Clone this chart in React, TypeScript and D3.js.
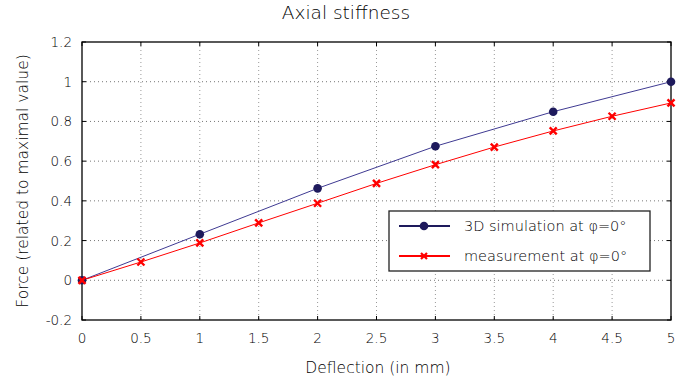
import React from "react";
import * as d3 from "d3";

const simX = [0, 1, 2, 3, 4, 5];
const simY = [0, 0.232, 0.463, 0.675, 0.849, 1.0];
const measX = [0, 0.5, 1, 1.5, 2, 2.5, 3, 3.5, 4, 4.5, 5];
const measY = [0, 0.092, 0.188, 0.289, 0.388, 0.488, 0.582, 0.671, 0.752, 0.826, 0.893];
const xTicks = [0, 0.5, 1, 1.5, 2, 2.5, 3, 3.5, 4, 4.5, 5];
const yTicks = [-0.2, 0, 0.2, 0.4, 0.6, 0.8, 1, 1.2];
const seriesNames = ["3D simulation at \u03c6=0\u00b0", "measurement at \u03c6=0\u00b0"];
const title = "Axial stiffness";
const xLabel = "Deflection (in mm)";
const yLabel = "Force (related to maximal value)";

const W = 696, H = 385;
const L = 82, R = 671, T = 42, B = 320;
const FONT = "'DejaVu Sans', sans-serif";
const FW = 200;
const TXT = "#000";
const SIM_LINE = "#3f3a92";
const SIM_MARK = "#1e1a5c";
const RED = "#ff0000";

export default function App() {
  const x = d3.scaleLinear().domain([0, 5]).range([L, R]);
  const y = d3.scaleLinear().domain([-0.2, 1.2]).range([B, T]);
  const line = d3.line<[number, number]>().x(d => x(d[0])).y(d => y(d[1]));
  const simPts: [number, number][] = simX.map((v, i) => [v, simY[i]]);
  const measPts: [number, number][] = measX.map((v, i) => [v, measY[i]]);
  const fmt = (v: number) => String(Math.round(v * 10) / 10);
  const cross = (cx: number, cy: number, s: number, key: string, sw = 2.4) => (
    <g key={key} stroke={RED} strokeWidth={sw}>
      <line x1={cx - s} y1={cy - s} x2={cx + s} y2={cy + s} />
      <line x1={cx - s} y1={cy + s} x2={cx + s} y2={cy - s} />
    </g>
  );
  const lgX = 389, lgY = 211, lgW = 261, lgH = 60;
  return (
    <svg width={W} height={H} style={{ position: "absolute", left: 0, top: 0, background: "#fff" }} fontFamily={FONT} fontWeight={FW}>
      <rect width={W} height={H} fill="#fff" />
      <text x={346} y={19} textAnchor="middle" fontSize={18.5} fill={TXT}>{title}</text>
      {/* grid */}
      {xTicks.slice(1, -1).map(t => (
        <line key={"gx" + t} x1={x(t)} x2={x(t)} y1={T} y2={B} stroke="#999" strokeWidth={1} strokeDasharray="1,3" />
      ))}
      {yTicks.slice(1, -1).map(t => (
        <line key={"gy" + t} x1={L} x2={R} y1={y(t)} y2={y(t)} stroke="#777" strokeWidth={1} strokeDasharray="1,3" />
      ))}
      {/* ticks */}
      {xTicks.map(t => (
        <g key={"tx" + t}>
          <line x1={x(t)} x2={x(t)} y1={B} y2={B - 4} stroke="#000" />
          <line x1={x(t)} x2={x(t)} y1={T} y2={T + 4} stroke="#000" />
          <text x={x(t)} y={343} textAnchor="middle" fontSize={13.5} fill={TXT}>{fmt(t)}</text>
        </g>
      ))}
      {yTicks.map(t => (
        <g key={"ty" + t}>
          <line x1={L} x2={L + 4} y1={y(t)} y2={y(t)} stroke="#000" />
          <line x1={R} x2={R - 4} y1={y(t)} y2={y(t)} stroke="#000" />
          <text x={72} y={y(t) + 5} textAnchor="end" fontSize={13.5} fill={TXT}>{fmt(t)}</text>
        </g>
      ))}
      <rect x={L} y={T} width={R - L} height={B - T} fill="none" stroke="#000" strokeWidth={1.3} />
      {/* series */}
      <path d={line(simPts) || ""} fill="none" stroke={SIM_LINE} strokeWidth={1} />
      <path d={line(measPts) || ""} fill="none" stroke={RED} strokeWidth={1} />
      {simPts.map((p, i) => (
        <circle key={"s" + i} cx={x(p[0])} cy={y(p[1])} r={4.3} fill={SIM_MARK} />
      ))}
      {measPts.map((p, i) => cross(x(p[0]), y(p[1]), 3.5, "m" + i))}
      {/* axis labels */}
      <text x={378} y={373} textAnchor="middle" fontSize={15.5} fill={TXT}>{xLabel}</text>
      <text transform={`translate(28, 181) rotate(-90)`} textAnchor="middle" fontSize={15.5} fill={TXT}>{yLabel}</text>
      {/* legend */}
      <rect x={lgX} y={lgY} width={lgW} height={lgH} fill="#fff" stroke="#222" strokeWidth={1.3} />
      <line x1={399} x2={450} y1={226} y2={226} stroke={SIM_MARK} strokeWidth={2} />
      <circle cx={424} cy={226} r={4.3} fill={SIM_MARK} />
      <text x={464} y={231} fontSize={14.5} fill={TXT}>{seriesNames[0]}</text>
      <line x1={399} x2={450} y1={256} y2={256} stroke={RED} strokeWidth={2} />
      {cross(424, 256, 3, "lg", 2.2)}
      <text x={464} y={261} fontSize={14.5} fill={TXT}>{seriesNames[1]}</text>
    </svg>
  );
}
